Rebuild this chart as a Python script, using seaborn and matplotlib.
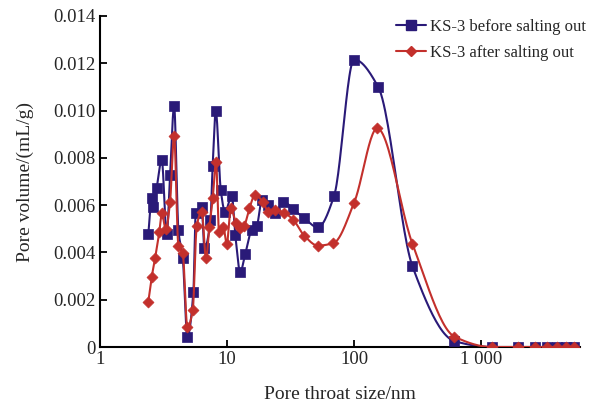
import numpy as np
import pandas as pd
import matplotlib
matplotlib.use("Agg")
import matplotlib.pyplot as plt
from matplotlib.lines import Line2D
import seaborn as sns

# pore throat size (nm) and pore volume (mL/g)
size_before = [2.40, 2.55, 2.63, 2.79, 3.06, 3.35, 3.56, 3.83, 4.14, 4.48,
               4.87, 5.43, 5.67, 6.32, 6.63, 7.40, 7.70, 8.15, 8.92, 9.64,
               10.9, 11.6, 12.7, 13.9, 15.6, 17.1, 18.8, 21.1, 23.9, 27.7,
               33.3, 40.6, 51.8, 69.6, 100, 155, 288, 616, 1214, 1955,
               2661, 3311, 3930, 4625, 5400]
vol_before = [0.00477, 0.00629, 0.00593, 0.00671, 0.00791, 0.00478, 0.00727, 0.01019, 0.00495, 0.00375,
              0.00044, 0.00234, 0.00566, 0.00591, 0.00418, 0.00537, 0.00766, 0.00998, 0.00664, 0.00572,
              0.00639, 0.00474, 0.00318, 0.00393, 0.00495, 0.00510, 0.00620, 0.00600, 0.00566, 0.00615,
              0.00582, 0.00544, 0.00506, 0.00640, 0.01216, 0.01099, 0.00341, 0.00025, 0, 0,
              0, 0, 0, 0, 0]

size_after = [2.40, 2.55, 2.71, 2.93, 3.06, 3.29, 3.56, 3.83, 4.14, 4.48,
              4.87, 5.37, 5.77, 6.32, 6.83, 7.26, 7.71, 8.19, 8.65, 9.35,
              9.95, 10.7, 11.8, 12.7, 13.6, 15.0, 16.6, 19.1, 21.1, 23.9,
              28.1, 33.3, 40.6, 51.8, 68.7, 100, 152, 288, 616, 1214,
              1955, 2661, 3311, 3930, 4625, 5400]
vol_after = [0.00192, 0.00295, 0.00375, 0.00488, 0.00566, 0.00498, 0.00615, 0.00893, 0.00427, 0.00396,
             0.00083, 0.00157, 0.00512, 0.00572, 0.00375, 0.00509, 0.00629, 0.00784, 0.00488, 0.00506,
             0.00436, 0.00587, 0.00523, 0.00502, 0.00512, 0.00587, 0.00643, 0.00615, 0.00572, 0.00580,
             0.00568, 0.00537, 0.00470, 0.00429, 0.00439, 0.00610, 0.00925, 0.00436, 0.00044, 0,
             0, 0, 0, 0, 0, 0]

labels = ["KS-3 before salting out", "KS-3 after salting out"]
x_ticks = [1, 10, 100, 1000]
x_ticklabels = ["1", "10", "100", "1 000"]
y_ticks = [0, 0.002, 0.004, 0.006, 0.008, 0.010, 0.012, 0.014]
y_ticklabels = ["0", "0.002", "0.004", "0.006", "0.008", "0.010", "0.012", "0.014"]


def smooth_line(x, y, n=25):
    # monotone cubic (pchip) through the points in log-x, like the spline connector
    lx = np.log10(np.asarray(x, float))
    y = np.asarray(y, float)
    h = np.diff(lx)
    d = np.diff(y) / h
    m = np.zeros_like(y)
    m[0], m[-1] = d[0], d[-1]
    for k in range(1, len(y) - 1):
        if d[k - 1] * d[k] > 0:
            w1 = 2 * h[k] + h[k - 1]
            w2 = h[k] + 2 * h[k - 1]
            m[k] = (w1 + w2) / (w1 / d[k - 1] + w2 / d[k])
    xs, ys = [], []
    t = np.linspace(0, 1, n, endpoint=False)
    for k in range(len(h)):
        h00 = 2 * t**3 - 3 * t**2 + 1
        h10 = t**3 - 2 * t**2 + t
        h01 = -2 * t**3 + 3 * t**2
        h11 = t**3 - t**2
        xs.append(lx[k] + t * h[k])
        ys.append(h00 * y[k] + h10 * h[k] * m[k] + h01 * y[k + 1] + h11 * h[k] * m[k + 1])
    xs.append([lx[-1]])
    ys.append([y[-1]])
    return pd.DataFrame({"size": 10 ** np.concatenate(xs), "vol": np.concatenate(ys)})


sns.set_style("ticks")
plt.rcParams["font.family"] = ["Liberation Serif", "DejaVu Serif"]

blue = "#2a1a78"
red = "#c3302c"

fig = plt.figure(figsize=(6, 4.05), dpi=100)
ax = fig.add_axes([0.1667, 0.1432, 0.8, 0.8173])

series = [(size_before, vol_before, blue, "s", 7.2),
          (size_after, vol_after, red, "D", 5.6)]
for i, (xs, ys, col, mk, ms) in enumerate(series):
    curve = smooth_line(xs, ys)
    sns.lineplot(data=curve, x="size", y="vol", sort=False, color=col,
                 linewidth=1.5, ax=ax, zorder=2 + 2 * i)
    pts = pd.DataFrame({"size": xs, "vol": ys})
    sns.scatterplot(data=pts, x="size", y="vol", marker=mk, s=ms**2, color=col,
                    edgecolor=col, linewidth=0.5, ax=ax, zorder=3 + 2 * i)

ax.set_xscale("log")
ax.set_xlim(1, 6000)
ax.set_ylim(0, 0.014)
ax.set_xticks(x_ticks)
ax.set_xticklabels(x_ticklabels)
ax.minorticks_off()
ax.set_yticks(y_ticks)
ax.set_yticklabels(y_ticklabels)
ax.tick_params(direction="in", length=5, width=1.3, labelsize=13.5, color="black", pad=3)
sns.despine(ax=ax)
for side in ["left", "bottom"]:
    ax.spines[side].set_linewidth(1.5)
    ax.spines[side].set_color("black")

ax.set_xlabel("Pore throat size/nm", fontsize=14, labelpad=13)
ax.set_ylabel("Pore volume/(mL/g)", fontsize=14, labelpad=14)

handles = [Line2D([], [], color=blue, marker="s", markersize=7.2, linewidth=1.5),
           Line2D([], [], color=red, marker="D", markersize=5.6, linewidth=1.5)]
fig.legend(handles, labels, loc="upper left", bbox_to_anchor=(396 / 600, 1 - 19 / 405),
           frameon=False, fontsize=12, handlelength=1.8, handletextpad=0.25,
           borderpad=0, borderaxespad=0, labelspacing=0.6)

fig.savefig("out.png", dpi=100)
